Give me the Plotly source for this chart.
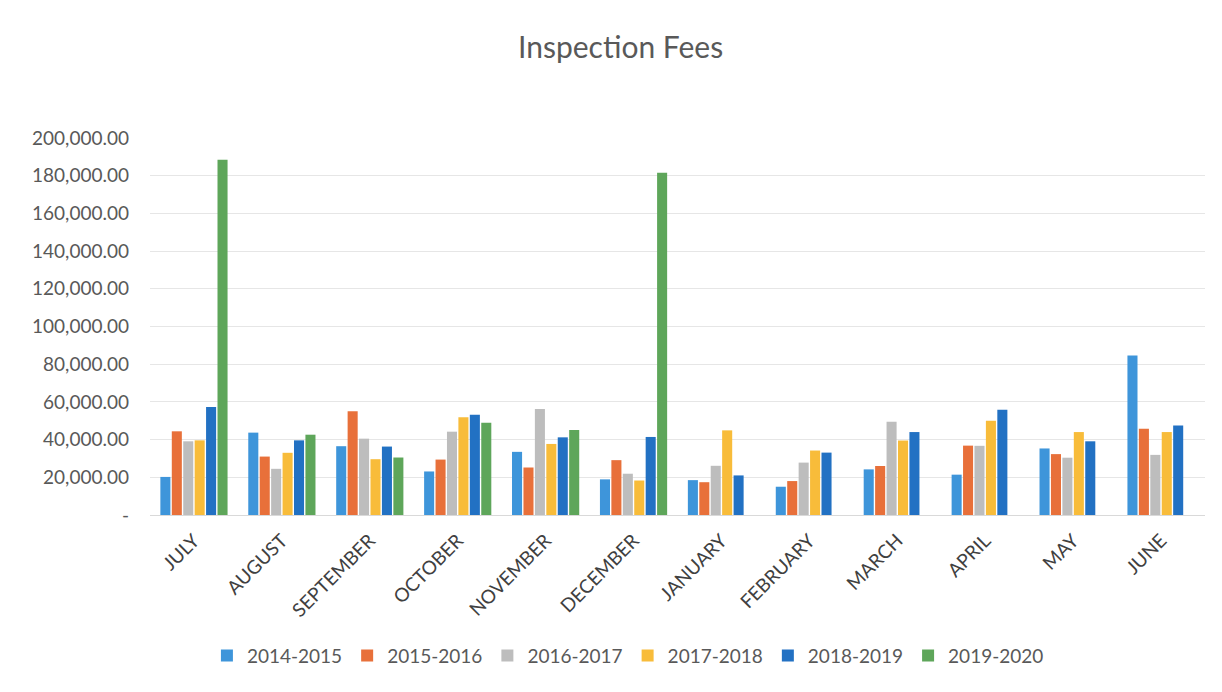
import plotly.graph_objects as go

months = ["JULY", "AUGUST", "SEPTEMBER", "OCTOBER", "NOVEMBER", "DECEMBER",
          "JANUARY", "FEBRUARY", "MARCH", "APRIL", "MAY", "JUNE"]

fy_2014_2015 = [20200, 43700, 36500, 23100, 33500, 18900, 18500, 15000, 24200, 21400, 35300, 84600]
fy_2015_2016 = [44400, 31000, 55000, 29400, 25200, 29100, 17400, 18000, 26000, 36800, 32300, 45800]
fy_2016_2017 = [39100, 24500, 40500, 44200, 56200, 21900, 26100, 27800, 49500, 36700, 30400, 31900]
fy_2017_2018 = [39600, 33000, 29600, 51800, 37700, 18300, 44900, 34200, 39500, 50000, 44000, 44000]
fy_2018_2019 = [57300, 39600, 36300, 53200, 41200, 41400, 21000, 33100, 44000, 55800, 39100, 47500]
fy_2019_2020 = [188500, 42600, 30500, 49000, 45100, 181600, None, None, None, None, None, None]

series_names = ["2014-2015", "2015-2016", "2016-2017", "2017-2018", "2018-2019", "2019-2020"]
series_values = [fy_2014_2015, fy_2015_2016, fy_2016_2017, fy_2017_2018, fy_2018_2019, fy_2019_2020]
colors = ["#3E95DA", "#E8703A", "#BDBDBD", "#F8BC3A", "#2271C3", "#5EA65A"]

tick_vals = [0, 20000, 40000, 60000, 80000, 100000, 120000, 140000, 160000, 180000, 200000]
tick_text = ["-", "20,000.00", "40,000.00", "60,000.00", "80,000.00", "100,000.00",
             "120,000.00", "140,000.00", "160,000.00", "180,000.00", "200,000.00"]

fig = go.Figure()
for name, vals, col in zip(series_names, series_values, colors):
    fig.add_trace(go.Bar(x=months, y=vals, name=name, marker=dict(color=col, line=dict(width=0))))

font_family = "Lato, 'Open Sans', sans-serif"
fig.update_layout(
    width=1206, height=676,
    paper_bgcolor="white", plot_bgcolor="white",
    margin=dict(l=142, r=9, t=130, b=163),
    barmode="group", bargap=0.22, bargroupgap=0.12,
    title=dict(text="Inspection Fees", x=0.508, xref="container", xanchor="center",
               y=0.941, yref="container", yanchor="middle",
               font=dict(family=font_family, size=30, color="#595959")),
    font=dict(family=font_family, color="#595959"),
    legend=dict(orientation="h", x=0.453, xanchor="center", y=-0.373, yanchor="middle",
                font=dict(size=19, color="#595959"), itemwidth=30, traceorder="normal"),
    xaxis=dict(tickangle=-45, tickfont=dict(size=19, color="#404040"), showgrid=False,
               showline=True, linecolor="#d9d9d9", linewidth=1, ticks="",
               ticklabelstandoff=6),
    yaxis=dict(range=[0, 200000], tickvals=tick_vals, ticktext=tick_text,
               tickfont=dict(size=19, color="#595959"), showgrid=True, gridcolor="#e6e6e6",
               gridwidth=1, zeroline=False, ticks="", ticklen=0, showline=False,
               ticklabelstandoff=20),
)

fig.write_html("out.html")
